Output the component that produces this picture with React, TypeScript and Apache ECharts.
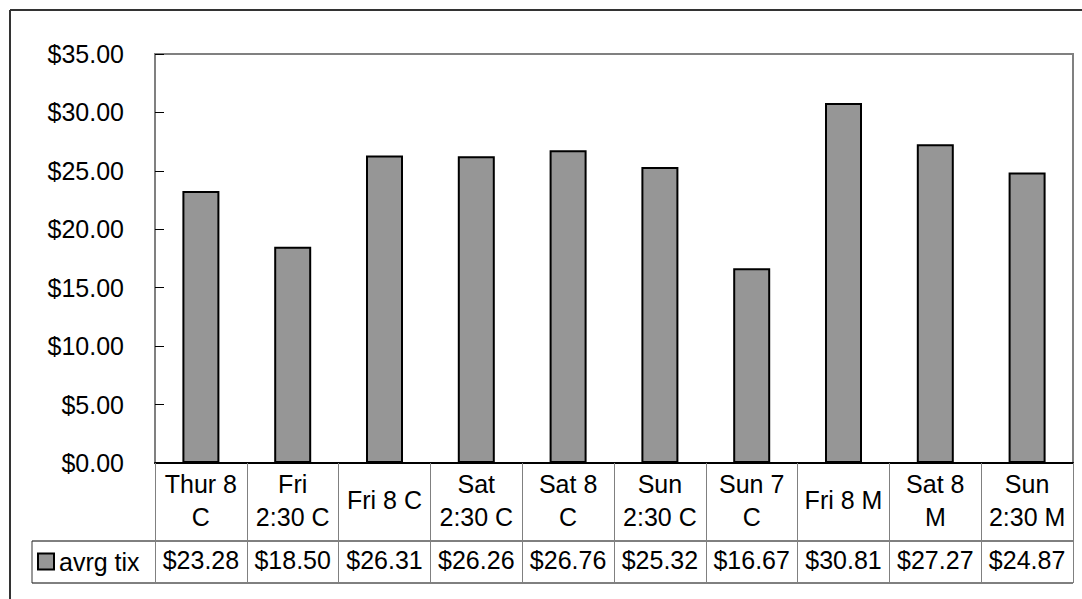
import React, { useEffect, useRef } from "react";
import * as echarts from "echarts";

const categories: string[] = [
  "Thur 8\nC",
  "Fri\n2:30 C",
  "Fri 8 C",
  "Sat\n2:30 C",
  "Sat 8\nC",
  "Sun\n2:30 C",
  "Sun 7\nC",
  "Fri 8 M",
  "Sat 8\nM",
  "Sun\n2:30 M",
];
const avrgTix: number[] = [23.28, 18.5, 26.31, 26.26, 26.76, 25.32, 16.67, 30.81, 27.27, 24.87];
const seriesName = "avrg tix";
const yMin = 0;
const yMax = 35;
const yStep = 5;

const FONT = "'Liberation Sans', Arial, sans-serif";
const FS = 25;

export default function App() {
  const ref = useRef<HTMLDivElement>(null);
  useEffect(() => {
    if (!ref.current) return;
    const chart = echarts.init(ref.current, undefined, { renderer: "svg" });
    const gridLeft = 155;
    const gridRight = 1073;
    const axisY = 463;
    chart.setOption({
      animation: false,
      backgroundColor: "#fff",
      textStyle: { fontFamily: FONT },
      grid: {
        left: gridLeft,
        top: 54,
        right: 1082 - gridRight,
        bottom: 599 - axisY,
        show: true,
        borderColor: "#808080",
        borderWidth: 2,
      },
      legend: {
        show: true,
        left: 37,
        top: 549,
        padding: 0,
        itemWidth: 16,
        itemHeight: 16,
        icon: "rect",
        textStyle: { fontSize: FS, color: "#000", fontFamily: FONT },
        data: [seriesName],
      },
      xAxis: [
        {
          type: "category",
          data: categories,
          position: "bottom",
          axisLine: { show: true, lineStyle: { color: "#000", width: 2 } },
          axisTick: {
            show: true,
            length: 120,
            interval: 0,
            lineStyle: { color: "#808080", width: 1 },
          },
          axisLabel: {
            interval: 0,
            margin: 37,
            verticalAlign: "middle",
            fontSize: FS,
            lineHeight: 33,
            color: "#000",
            fontFamily: FONT,
          },
          splitLine: { show: false },
        },
        {
          type: "category",
          data: categories,
          position: "bottom",
          axisLine: { show: false },
          axisTick: { show: false },
          axisLabel: {
            interval: 0,
            margin: 97,
            verticalAlign: "middle",
            fontSize: FS,
            color: "#000",
            fontFamily: FONT,
            formatter: (_v: string, i: number) => "$" + avrgTix[i].toFixed(2),
          },
        },
      ],
      yAxis: {
        type: "value",
        min: yMin,
        max: yMax,
        interval: yStep,
        axisLine: { show: true, lineStyle: { color: "#808080", width: 2 } },
        axisTick: { show: true, inside: true, length: 9, lineStyle: { color: "#000", width: 1 } },
        axisLabel: {
          margin: 31,
          fontSize: FS,
          color: "#000",
          fontFamily: FONT,
          formatter: (v: number) => "$" + v.toFixed(2),
        },
        splitLine: { show: false },
      },
      series: [
        {
          name: seriesName,
          type: "bar",
          data: avrgTix,
          barWidth: 37,
          itemStyle: { color: "#969696", borderColor: "#000", borderWidth: 2 },
        },
      ],
      graphic: [
        { type: "line", shape: { x1: 10, y1: 10, x2: 1082, y2: 10 }, style: { stroke: "#333", lineWidth: 2 } },
        { type: "line", shape: { x1: 10, y1: 10, x2: 10, y2: 599 }, style: { stroke: "#333", lineWidth: 2 } },
        { type: "line", shape: { x1: 32, y1: 541, x2: gridRight, y2: 541 }, style: { stroke: "#000", lineWidth: 1 } },
        { type: "line", shape: { x1: 32, y1: 583, x2: gridRight, y2: 583 }, style: { stroke: "#000", lineWidth: 1 } },
        { type: "line", shape: { x1: 32, y1: 541, x2: 32, y2: 583 }, style: { stroke: "#333", lineWidth: 1 } },
      ],
    });
    return () => chart.dispose();
  }, []);
  return (
    <div
      ref={ref}
      style={{ position: "fixed", left: 0, top: 0, width: 1082, height: 599, background: "#fff" }}
    />
  );
}
